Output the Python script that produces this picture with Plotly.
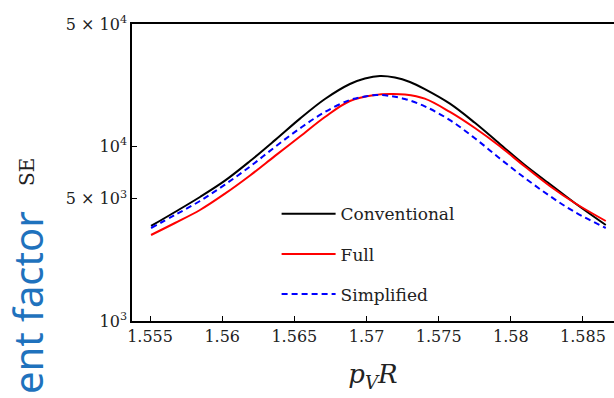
import plotly.graph_objects as go

# ---- data ----
x_conv = [1.55507, 1.55673, 1.55846, 1.56019, 1.56193, 1.56366, 1.56539, 1.56712,
          1.56885, 1.56989, 1.57093, 1.57197, 1.57301, 1.57404, 1.57578, 1.57751,
          1.57924, 1.58097, 1.58270, 1.58443, 1.58658]
y_conv = [3496, 4203, 5122, 6350, 8220, 10830, 14380, 18620,
          22690, 24390, 25210, 24720, 23300, 21200, 17500, 13600,
          10300, 7805, 6078, 4732, 3542]

x_full = [1.55507, 1.55673, 1.55846, 1.56019, 1.56193, 1.56366, 1.56539, 1.56712,
          1.56885, 1.57058, 1.57162, 1.57266, 1.57404, 1.57578, 1.57751, 1.57924,
          1.58097, 1.58270, 1.58443, 1.58658]
y_full = [3105, 3636, 4315, 5350, 6800, 8800, 11350, 14690,
          18140, 19630, 19890, 19760, 18700, 15700, 12700, 9990,
          7650, 5920, 4732, 3733]

x_simp = [1.55507, 1.55673, 1.55846, 1.56019, 1.56193, 1.56366, 1.56539, 1.56712,
          1.56885, 1.56989, 1.57072, 1.57162, 1.57266, 1.57404, 1.57578, 1.57751,
          1.57924, 1.58097, 1.58270, 1.58443, 1.58658]
y_simp = [3404, 4041, 4859, 6030, 7650, 9900, 12650, 15690,
          18380, 19250, 19630, 19380, 18620, 16900, 14100, 11100,
          8500, 6578, 5191, 4203, 3404]

x_ticks = [1.555, 1.56, 1.565, 1.57, 1.575, 1.58, 1.585]
x_ticktext = ["1.555", "1.56", "1.565", "1.57", "1.575", "1.58", "1.585"]
y_ticks = [1e3, 5e3, 1e4, 5e4]
y_ticktext = ["10<sup>3</sup>", "5 × 10<sup>3</sup>", "10<sup>4</sup>", "5 × 10<sup>4</sup>"]

SERIF = "DejaVu Serif"

fig = go.Figure()
fig.add_trace(go.Scatter(x=x_conv, y=y_conv, mode="lines", name="Conventional",
                         legendgroup="a",
                         line=dict(color="#000000", width=2, shape="spline", smoothing=1)))
fig.add_trace(go.Scatter(x=x_full, y=y_full, mode="lines", name="Full",
                         legendgroup="b",
                         line=dict(color="#ff0000", width=2, shape="spline", smoothing=1)))
fig.add_trace(go.Scatter(x=x_simp, y=y_simp, mode="lines", name="Simplified",
                         legendgroup="c",
                         line=dict(color="#0000ff", width=2, shape="spline", smoothing=1,
                                   dash="6px,4px")))

fig.update_layout(
    width=614, height=398,
    margin=dict(l=132, r=0, t=24, b=77),
    paper_bgcolor="white", plot_bgcolor="white",
    font=dict(family=SERIF, size=16, color="#222"),
    legend=dict(x=0.30, y=0.42, xanchor="left", yanchor="top",
                bgcolor="rgba(0,0,0,0)", tracegroupgap=15, itemwidth=54,
                font=dict(family=SERIF, size=17, color="#222")),
    xaxis=dict(range=[1.55375, 1.58715], tickvals=x_ticks, ticktext=x_ticktext,
               showgrid=False, zeroline=False, showline=True, linecolor="black",
               linewidth=1.5, mirror=True, ticks="inside", ticklen=5,
               tickcolor="black", tickfont=dict(family=SERIF, size=16, color="#222"),
               title=dict(text="<i>p</i><sub><i>V</i></sub><i>R</i>",
                          font=dict(family=SERIF, size=26, color="#222"), standoff=20)),
    yaxis=dict(type="log", range=[3, 4.69897], tickvals=y_ticks, ticktext=y_ticktext,
               showgrid=False, zeroline=False, showline=True, linecolor="black",
               linewidth=1.5, mirror=False, ticks="inside", ticklen=5,
               tickcolor="black", tickfont=dict(family=SERIF, size=16, color="#222")),
)

fig.add_annotation(text="SE", xref="paper", yref="paper",
                   x=(27 - 132) / 482, y=(321 - 172) / 297, textangle=-90,
                   showarrow=False, xanchor="center", yanchor="middle",
                   font=dict(family=SERIF, size=20, color="#222"))
fig.add_annotation(text="ent factor", xref="paper", yref="paper",
                   x=(27 - 132) / 482, y=(321 - 303) / 297, textangle=-90,
                   showarrow=False, xanchor="center", yanchor="middle",
                   font=dict(family="Noto Sans", size=40, color="#1f72bd"))

fig.write_html("out.html")
